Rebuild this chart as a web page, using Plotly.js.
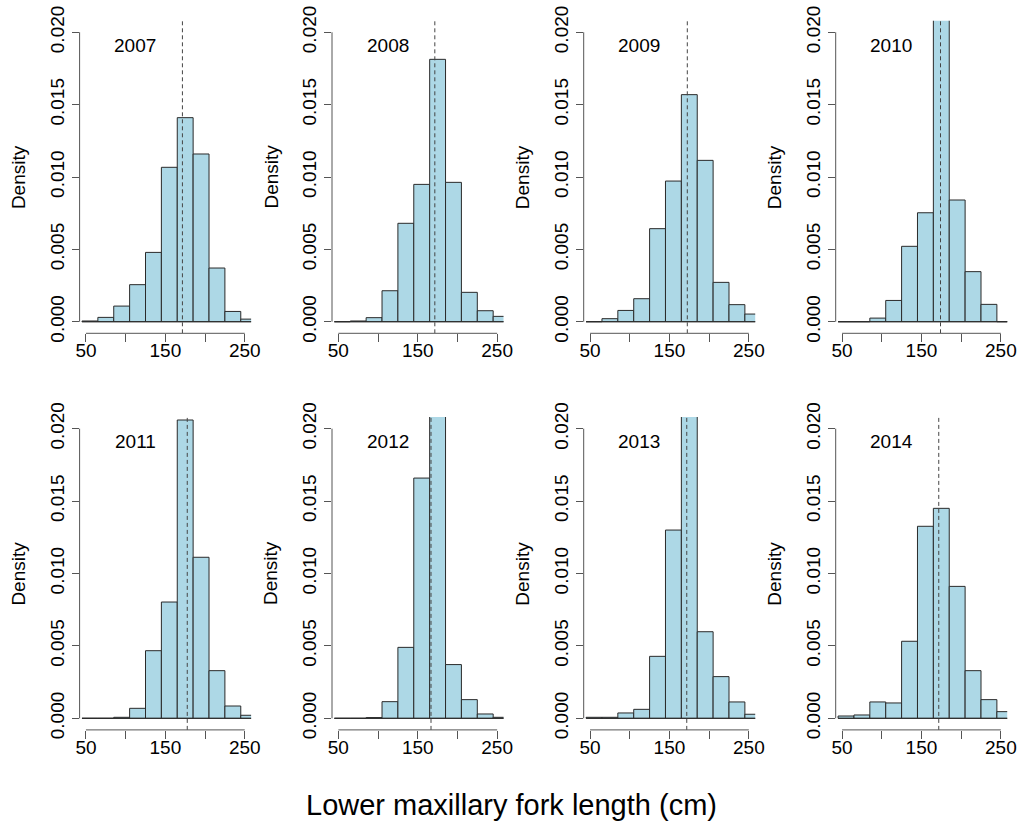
<!DOCTYPE html>
<html>
<head>
<meta charset="utf-8">
<script src="https://cdn.plot.ly/plotly-3.0.1.min.js"></script>
<style>html,body{margin:0;padding:0;background:#fff;}#chart{width:1021px;height:827px;}</style>
</head>
<body>
<div id="chart"></div>
<script>
// Bin edges 45,65,...,265 (width 20); values are densities
const binCenters = [55, 75, 95, 115, 135, 155, 175, 195, 215, 235, 255];
const binWidth = 20;
const years = ["2007", "2008", "2009", "2010", "2011", "2012", "2013", "2014"];
const d2007 = [0.00005, 0.0003, 0.00108, 0.00256, 0.00479, 0.01067, 0.0141, 0.01159, 0.00371, 0.00071, 0.00018];
const d2008 = [0, 0.00005, 0.00028, 0.00214, 0.0068, 0.00949, 0.01813, 0.00963, 0.00203, 0.00076, 0.00037];
const d2009 = [0, 0.00021, 0.00078, 0.00159, 0.00643, 0.00972, 0.01569, 0.01115, 0.00272, 0.00118, 0.00053];
const d2010 = [0, 0, 0.00025, 0.00147, 0.00521, 0.00753, 0.0225, 0.00841, 0.00346, 0.0012, 0];
const d2011 = [0, 0, 0.00007, 0.00069, 0.00467, 0.00803, 0.0206, 0.01112, 0.00329, 0.00085, 0.00021];
const d2012 = [0, 0, 0.00005, 0.00115, 0.0049, 0.01659, 0.0219, 0.00371, 0.00129, 0.0003, 0.00007];
const d2013 = [0.00007, 0.00007, 0.00037, 0.00062, 0.00428, 0.013, 0.0213, 0.00598, 0.00288, 0.00113, 0.00028];
const d2014 = [0.00016, 0.00023, 0.00113, 0.00106, 0.00532, 0.01326, 0.0145, 0.00911, 0.00329, 0.00129, 0.00046];
const densities = [d2007, d2008, d2009, d2010, d2011, d2012, d2013, d2014];
const means = [171.5, 171.5, 172.5, 174, 177.6, 166.7, 171.8, 171.8];
const xTicks = [50, 100, 150, 200, 250];
const xTickText = ["50", "", "150", "", "250"];
const yTicks = [0, 0.005, 0.01, 0.015, 0.02];
const yTickText = ["0.000", "0.005", "0.010", "0.015", "0.020"];
const xLabel = "Lower maxillary fork length (cm)";
const yLabel = "Density";

const W = 1021, H = 827;
const colLeft = [79.6, 332, 583.7, 835.7];
const plotW = 171.5;
const rowTop = [20.7, 417.1];
const rowBot = [333.3, 729.9];
const xRange = [42, 258];
const yRange = [-0.0008, 0.0208];
const FONT = "Liberation Sans, Arial, Helvetica, sans-serif";
const fs = 19;

const traces = [];
const layout = {
  width: W, height: H,
  margin: {l: 0, r: 0, t: 0, b: 0},
  paper_bgcolor: "#ffffff", plot_bgcolor: "#ffffff",
  showlegend: false,
  font: {family: FONT, size: fs, color: "#000"},
  shapes: [], annotations: []
};

years.forEach((yr, i) => {
  const r = Math.floor(i / 4), c = i % 4;
  const n = i + 1;
  const xa = n === 1 ? "x" : "x" + n;
  const ya = n === 1 ? "y" : "y" + n;
  const xKey = n === 1 ? "xaxis" : "xaxis" + n;
  const yKey = n === 1 ? "yaxis" : "yaxis" + n;
  const x0 = colLeft[c] / W, x1 = (colLeft[c] + plotW) / W;
  const y1 = 1 - rowTop[r] / H, y0 = 1 - rowBot[r] / H;

  traces.push({
    type: "bar", x: binCenters, y: densities[i], width: binWidth,
    xaxis: xa, yaxis: ya,
    marker: {color: "#ADD8E6", line: {color: "#2a2a2a", width: 1}},
    hoverinfo: "skip"
  });
  // baseline of the histogram (zero-height bins)
  traces.push({
    type: "scatter", mode: "lines", x: [binCenters[0] - binWidth / 2, binCenters[binCenters.length - 1] + binWidth / 2], y: [0, 0],
    xaxis: xa, yaxis: ya, line: {color: "#2a2a2a", width: 1}, hoverinfo: "skip"
  });
  // mean line
  traces.push({
    type: "scatter", mode: "lines", x: [means[i], means[i]], y: yRange,
    xaxis: xa, yaxis: ya, line: {color: "#444444", width: 1, dash: "4px,3px"}, hoverinfo: "skip"
  });

  layout[xKey] = {
    domain: [x0, x1], range: xRange, anchor: ya,
    tickmode: "array", tickvals: xTicks, ticktext: xTickText,
    ticks: "outside", ticklen: 8, tickwidth: 1, tickcolor: "#555",
    ticklabelstandoff: -8,
    showline: false, showgrid: false, zeroline: false,
    tickfont: {family: FONT, size: fs, color: "#000"}, fixedrange: true
  };
  layout[yKey] = {
    domain: [y0, y1], range: yRange, anchor: xa,
    tickmode: "array", tickvals: yTicks, ticktext: yTickText, tickangle: -90,
    ticks: "outside", ticklen: 7, tickwidth: 1, tickcolor: "#555",
    showline: false, showgrid: false, zeroline: false,
    tickfont: {family: FONT, size: fs, color: "#000"}, fixedrange: true
  };
  // R-style axis lines spanning first to last tick
  layout.shapes.push({type: "line", xref: xa, yref: "paper", x0: xTicks[0], x1: xTicks[xTicks.length - 1], y0: y0, y1: y0,
    line: {color: "#555", width: 1}});
  layout.shapes.push({type: "line", xref: "paper", yref: ya, x0: x0, x1: x0, y0: yTicks[0], y1: yTicks[yTicks.length - 1],
    line: {color: "#555", width: 1}});
  // year label
  layout.annotations.push({xref: xa, yref: ya, x: 112, y: 0.0191, text: yr, showarrow: false,
    font: {family: FONT, size: fs, color: "#000"}, xanchor: "center", yanchor: "middle"});
  // y label
  layout.annotations.push({xref: "paper", yref: "paper", x: (colLeft[c] - 61.5) / W, y: (y0 + y1) / 2, text: yLabel,
    textangle: -90, showarrow: false, font: {family: FONT, size: fs, color: "#000"}, xanchor: "center", yanchor: "middle"});
});

layout.annotations.push({xref: "paper", yref: "paper", x: 511.5 / W, y: 1 - 805 / H, text: xLabel, showarrow: false,
  font: {family: FONT, size: 29, color: "#000"}, xanchor: "center", yanchor: "middle"});

Plotly.newPlot("chart", traces, layout, {displayModeBar: false, staticPlot: true});
</script>
</body>
</html>
